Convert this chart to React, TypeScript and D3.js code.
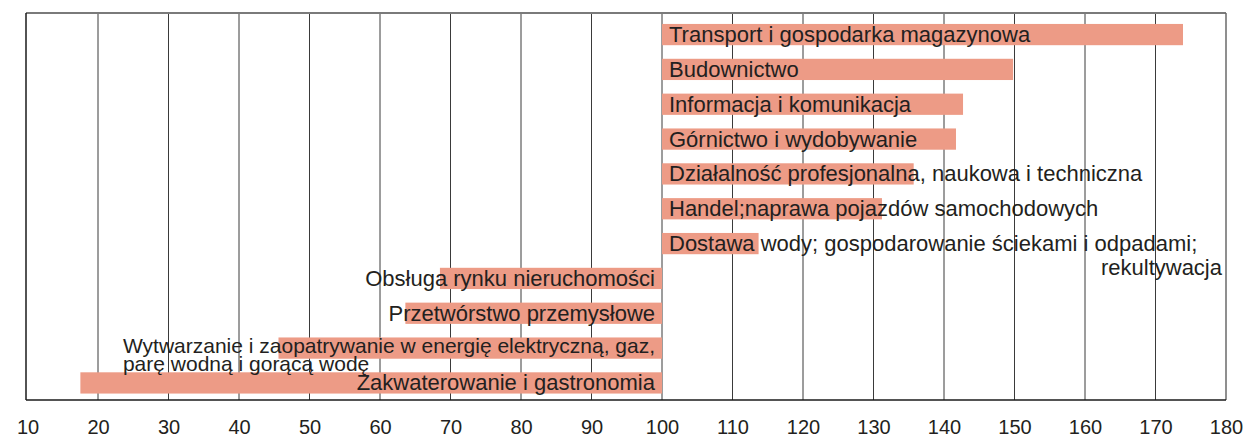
import React, { useEffect, useRef } from 'react';
import * as d3 from 'd3';

const categories = [
  'Transport i gospodarka magazynowa',
  'Budownictwo',
  'Informacja i komunikacja',
  'Górnictwo i wydobywanie',
  'Działalność profesjonalna, naukowa i techniczna',
  'Handel;naprawa pojazdów samochodowych',
  'Dostawa wody; gospodarowanie ściekami i odpadami; rekultywacja',
  'Obsługa rynku nieruchomości',
  'Przetwórstwo przemysłowe',
  'Wytwarzanie i zaopatrywanie w energię elektryczną, gaz, parę wodną i gorącą wodę',
  'Zakwaterowanie i gastronomia',
];

const values = [173.9, 149.8, 142.7, 141.7, 135.7, 131.2, 113.7, 68.5, 63.6, 45.6, 17.5];

const labelLines = [
  ['Transport i gospodarka magazynowa'],
  ['Budownictwo'],
  ['Informacja i komunikacja'],
  ['Górnictwo i wydobywanie'],
  ['Działalność profesjonalna, naukowa i techniczna'],
  ['Handel;naprawa pojazdów samochodowych'],
  ['Dostawa wody; gospodarowanie ściekami i odpadami;', 'rekultywacja'],
  ['Obsługa rynku nieruchomości'],
  ['Przetwórstwo przemysłowe'],
  ['Wytwarzanie i zaopatrywanie w energię elektryczną, gaz,', 'parę wodną i gorącą wodę'],
  ['Zakwaterowanie i gastronomia'],
];

const xTicks = [10, 20, 30, 40, 50, 60, 70, 80, 90, 100, 110, 120, 130, 140, 150, 160, 170, 180];

const BASE = 100;

function App() {
  const ref = useRef<SVGSVGElement>(null);

  useEffect(() => {
    const width = 1244, height = 436;
    const top = 13, bottom = 400, left = 26, right = 1226;
    const font = '"Liberation Sans", Arial, sans-serif';
    const ink = '#231f20';

    const svg = d3.select(ref.current).attr('width', width).attr('height', height);
    svg.selectAll('*').remove();

    const x = d3.scaleLinear().domain([10, 180]).range([27.5, 1226]);
    const y = d3.scaleBand().domain(categories).range([17.5, 400]).paddingInner(0.39).paddingOuter(0.185);

    // grid
    svg.append('g')
      .selectAll('line')
      .data(xTicks.filter((t) => t > 10 && t < 180))
      .join('line')
      .attr('x1', (d) => x(d)).attr('x2', (d) => x(d))
      .attr('y1', top).attr('y2', bottom)
      .attr('stroke', '#3a3a3a').attr('stroke-width', 1);

    // frame
    svg.append('line').attr('x1', left).attr('x2', right).attr('y1', top).attr('y2', top)
      .attr('stroke', '#7a7a7a').attr('stroke-width', 2);
    svg.append('line').attr('x1', right).attr('x2', right).attr('y1', top).attr('y2', bottom)
      .attr('stroke', '#6a6a6a').attr('stroke-width', 1.5);
    svg.append('line').attr('x1', left).attr('x2', left).attr('y1', top).attr('y2', bottom)
      .attr('stroke', '#1a1a1a').attr('stroke-width', 1.5);

    // bars
    svg.append('g')
      .selectAll('rect')
      .data(values)
      .join('rect')
      .attr('x', (d) => x(Math.min(d, BASE)))
      .attr('width', (d) => Math.abs(x(d) - x(BASE)))
      .attr('y', (_, i) => y(categories[i])!)
      .attr('height', y.bandwidth())
      .attr('fill', '#ed9b86');

    svg.append('line').attr('x1', left).attr('x2', right).attr('y1', bottom).attr('y2', bottom)
      .attr('stroke', '#1a1a1a').attr('stroke-width', 1.5);

    // labels
    const lg = svg.append('g').attr('font-family', font).attr('font-size', 22).attr('fill', ink);
    values.forEach((v, i) => {
      const cy = y(categories[i])! + y.bandwidth() / 2;
      const lines = labelLines[i];
      if (v >= BASE) {
        lg.append('text').attr('x', x(BASE) + 7).attr('y', cy + 7.5).text(lines[0]);
        if (lines[1]) {
          lg.append('text').attr('x', x(180) - 4).attr('y', cy + 31.5)
            .attr('text-anchor', 'end').text(lines[1]);
        }
      } else {
        const size = lines[1] ? 21 : 22;
        const first = lg.append('text').attr('x', x(BASE) - 7)
          .attr('y', cy + (lines[1] ? 4.5 : 7.5))
          .attr('font-size', size)
          .attr('text-anchor', 'end').text(lines[0]);
        if (lines[1]) {
          const w = (first.node() as SVGTextElement).getComputedTextLength();
          lg.append('text').attr('x', x(BASE) - 7 - w).attr('y', cy + 23)
            .attr('font-size', size).text(lines[1]);
        }
      }
    });

    // x axis labels
    const axis = svg.append('g')
      .attr('transform', `translate(0,${bottom})`)
      .call(d3.axisBottom(x).tickValues(xTicks).tickSize(0).tickPadding(20));
    axis.select('.domain').remove();
    axis.selectAll('text').attr('font-family', font).attr('font-size', 20).attr('fill', ink);
  }, []);

  return <svg ref={ref} style={{ position: 'absolute', left: 0, top: 0, display: 'block' }}></svg>;
}

export default App;
